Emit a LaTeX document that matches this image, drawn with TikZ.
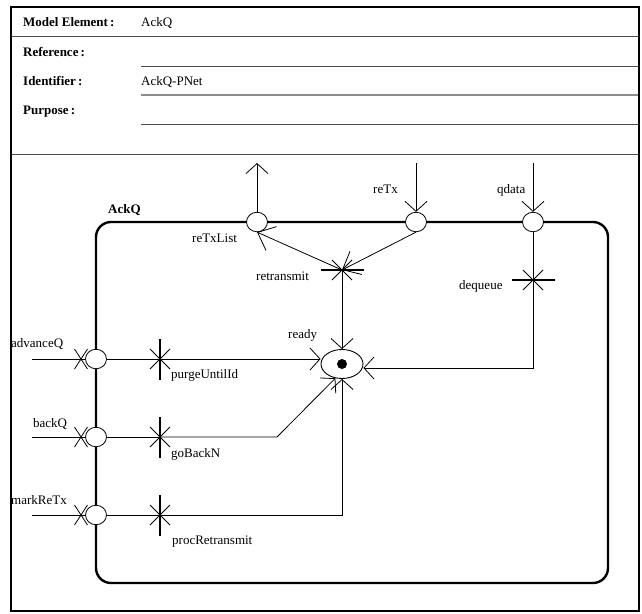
\documentclass[tikz,border=0pt]{standalone}
\usepackage{fontspec}
\setmainfont{Liberation Serif}
\usetikzlibrary{arrows.meta,shapes.geometric,calc}

\tikzset{
  thinl/.style={line width=0.8pt, draw=black},
  arc/.style={thinl, -{Straight Barb[length=10pt,width=22pt,line width=0.8pt]}},
  bigarc/.style={thinl, -{Straight Barb[length=15pt,width=26pt,line width=0.8pt]}},
  rule/.style={line width=0.9pt, draw=black!70},
  port/.style={ellipse, draw, line width=0.8pt, fill=white,
    minimum width=21pt, minimum height=19.5pt, inner sep=0pt},
  place/.style={ellipse, draw, line width=0.9pt, fill=white,
    minimum width=42pt, minimum height=29pt, inner sep=0pt},
  token/.style={circle, fill=black, minimum size=10pt, inner sep=0pt},
  htrans/.style={rectangle, fill=black, minimum width=43pt, minimum height=2.8pt, inner sep=0pt},
  vtrans/.style={rectangle, fill=black, minimum width=2.8pt, minimum height=41pt, inner sep=0pt},
  lbl/.style={font=\fontsize{13}{15}\selectfont, inner sep=0pt, anchor=base west},
  blbl/.style={lbl, font=\fontsize{13}{15}\selectfont\bfseries},
  container/.style={draw, line width=2.4pt, rounded corners=15pt, inner sep=0pt,
    minimum width=512pt, minimum height=361pt},
  xmark/.pic={\draw[thinl] (-10,-10) -- (10,10) (-10,10) -- (10,-10);},
  portx/.pic={\draw[thinl] (-6.5,-10) -- (6.5,10) (-6.5,10) -- (6.5,-10);}
}

\begin{document}
\begin{tikzpicture}[x=1pt, y=-1pt]
\useasboundingbox (0,0) rectangle (642,613);

% ---- header table ----
\draw[rule] (11,36) -- (639,36);
\draw[rule] (141,66) -- (639,66);
\draw[line width=1.3pt, draw=black!45] (141,95) -- (639,95);
\draw[rule] (141,124) -- (639,124);
\draw[rule] (11,154) -- (639,154);

\node[blbl] (hME)  at (23,27)  {Model Element\,:};
\node[lbl]  (vME)  at (141,27) {AckQ};
\node[blbl] (hRef) at (23,56)  {Reference\,:};
\node[blbl] (hId)  at (23,85)  {Identifier\,:};
\node[lbl]  (vId)  at (141,85) {AckQ-PNet};
\node[blbl] (hPur) at (23,114) {Purpose\,:};

% ---- AckQ net ----
\node[container] (box) at (352,402.5) {};
\node[blbl] (boxname) at (108,213) {AckQ};

% free ends of the boundary connectors
\coordinate (outTL) at (257,163);
\coordinate (inRT)  at (416,163);
\coordinate (inQD)  at (533,163);
\coordinate (inAQ)  at (32,359);
\coordinate (inBQ)  at (32,437);
\coordinate (inMR)  at (32,515);
\coordinate (bend)  at (277,437);

% crossing marks of the incoming boundary arcs (partly covered by the ports)
\pic at (81,359) {portx};
\pic at (81,437) {portx};
\pic at (81,515) {portx};

% ports on the boundary
\node[port] (pTL) at (257,222) {};
\node[port] (pRT) at (416,222) {};
\node[port] (pQD) at (533,222) {};
\node[port] (pAQ) at (96,359) {};
\node[port] (pBQ) at (96,437) {};
\node[port] (pMR) at (96,515) {};

% place
\node[place] (ready) at (342,364) {};
\node[token] (tok) at (ready.center) {};

% transition positions
\coordinate (cRT) at (342,270);
\coordinate (cDQ) at (533,280);
\coordinate (cPU) at (160,359);
\coordinate (cGB) at (160,437);
\coordinate (cPR) at (160,515);

% arcs
\draw[thinl] (inAQ) -- (pAQ);
\draw[thinl] (inBQ) -- (pBQ);
\draw[thinl] (inMR) -- (pMR);
\draw[thinl] (pAQ) -- (cPU);
\draw[thinl] (pBQ) -- (cGB);
\draw[thinl] (pMR) -- (cPR);
\draw[arc] (cPU) -- (cPU -| ready.west);
\draw[arc] (cGB) -- (bend) -- (ready.245);
\draw[arc] (cPR) -| (ready.south);

\draw[arc] (pTL) -- (outTL);
\draw[arc] (inRT) -- (pRT);
\draw[arc] (inQD) -- (pQD);
\draw[bigarc] (pRT.south) -- (cRT);
\draw[bigarc] (cRT) -- (pTL.south);
\draw[arc] (cRT) -- (ready.north);
\draw[thinl] (pQD) -- (cDQ);
\draw[arc] (cDQ) |- ([yshift=-4pt]ready.east);

% transitions
\node[htrans] (tRT) at (cRT) {};
\node[htrans] (tDQ) at (cDQ) {};
\node[vtrans] (tPU) at (cPU) {};
\node[vtrans] (tGB) at (cGB) {};
\node[vtrans] (tPR) at (cPR) {};
\pic at (tRT) {xmark};
\pic at (tDQ) {xmark};
\pic at (tPU) {xmark};
\pic at (tGB) {xmark};
\pic at (tPR) {xmark};

% labels
\node[lbl] (lTL) at (192,242) {reTxList};
\node[lbl] (lRT) at (373,193) {reTx};
\node[lbl] (lQD) at (497,193) {qdata};
\node[lbl] (lRTr) at (256,280) {retransmit};
\node[lbl] (lDQ) at (459,289) {dequeue};
\node[lbl] (lRd) at (288,338) {ready};
\node[lbl] (lPU) at (171,378) {purgeUntilId};
\node[lbl] (lGB) at (171,457) {goBackN};
\node[lbl] (lPR) at (172,544) {procRetransmit};
\node[lbl] (lAQ) at (11,347) {advanceQ};
\node[lbl] (lBQ) at (33,427) {backQ};
\node[lbl] (lMR) at (11,504) {markReTx};

% outer frame
\draw[line width=2pt] (11,7) rectangle (639,611);
\end{tikzpicture}
\end{document}
